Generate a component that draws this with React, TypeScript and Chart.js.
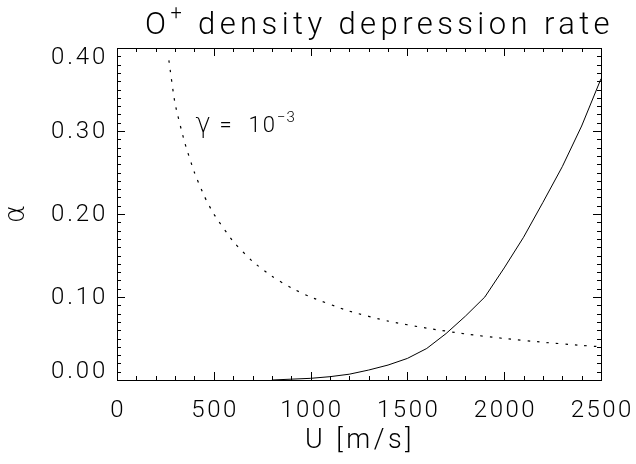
import { useEffect, useRef } from 'react';
import { Chart, registerables } from 'chart.js';

Chart.register(...registerables);

// Solid curve (alpha vs U)
const solidU = [800, 900, 1000, 1100, 1200, 1300, 1400, 1500, 1600, 1700, 1800, 1900, 2000, 2100, 2200, 2300, 2400, 2500];
const solidAlpha = [0.0, 0.001, 0.002, 0.004, 0.007, 0.012, 0.018, 0.026, 0.038, 0.056, 0.077, 0.1, 0.135, 0.172, 0.214, 0.257, 0.306, 0.363];

// Dotted curve (gamma = 1e-3)
const dottedU = [268, 300, 350, 400, 450, 500, 600, 700, 800, 900, 1000, 1200, 1400, 1600, 1800, 2000, 2200, 2400, 2500];
const dottedAlpha = [0.385, 0.333, 0.286, 0.25, 0.222, 0.2, 0.167, 0.143, 0.125, 0.111, 0.1, 0.083, 0.071, 0.0625, 0.0555, 0.05, 0.0455, 0.0417, 0.04];

const xTickValues = [0, 500, 1000, 1500, 2000, 2500];
const yTickValues = [0, 0.1, 0.2, 0.3, 0.4];

const titleMain = 'O';
const titleSup = '+';
const titleRest = ' density depression rate';
const xAxisTitle = 'U [m/s]';
const yAxisTitle = 'α';
const annotationGreek = 'γ';
const annotationEq = '=';
const annotationBase = '10';
const annotationSup = '−3';
const annotationAt = { u: 395, alpha: 0.299 };

const FONT = 'Roboto';
const GREEK = '"DejaVu Sans"';
const INK = '#000';

const decorPlugin = {
  id: 'idlDecor',
  beforeUpdate(chart: any) {
    chart.ctx.letterSpacing = '2.5px';
  },
  beforeDraw(chart: any) {
    const ctx = chart.ctx;
    ctx.save();
    ctx.fillStyle = '#fff';
    ctx.fillRect(0, 0, chart.width, chart.height);
    ctx.restore();
    ctx.letterSpacing = '2.5px';
  },
  afterDraw(chart: any) {
    const ctx = chart.ctx as CanvasRenderingContext2D;
    const { left, right, top, bottom } = chart.chartArea;
    const xs = chart.scales.x;
    const ys = chart.scales.y;
    ctx.save();
    ctx.strokeStyle = INK;
    ctx.fillStyle = INK;
    ctx.lineWidth = 1;

    // frame
    ctx.strokeRect(Math.round(left) + 0.5, Math.round(top) + 0.5, Math.round(right - left), Math.round(bottom - top));

    // x ticks (inward, bottom and top)
    ctx.beginPath();
    for (let i = 0; i <= 25; i++) {
      const px = Math.round(xs.getPixelForValue(i * 100)) + 0.5;
      const len = i % 5 === 0 ? 8 : 4;
      ctx.moveTo(px, bottom);
      ctx.lineTo(px, bottom - len);
      ctx.moveTo(px, top);
      ctx.lineTo(px, top + len);
    }
    // y ticks (inward, left and right)
    for (let i = 0; i <= 40; i++) {
      const py = Math.round(ys.getPixelForValue(i / 100)) + 0.5;
      const len = i % 10 === 0 ? 8 : 4;
      ctx.moveTo(left, py);
      ctx.lineTo(left + len, py);
      ctx.moveTo(right, py);
      ctx.lineTo(right - len, py);
    }
    ctx.stroke();

    // y tick labels (kept inside the frame at the ends)
    ctx.font = `300 24px ${FONT}`;
    ctx.letterSpacing = '2.8px';
    ctx.textAlign = 'right';
    ctx.textBaseline = 'middle';
    const half = 9;
    yTickValues.forEach((v) => {
      let py = ys.getPixelForValue(v);
      py = Math.min(Math.max(py, top + half), bottom - half);
      ctx.fillText(v.toFixed(2), left - 9, py + 1);
    });

    // x tick labels
    ctx.letterSpacing = '2.5px';
    ctx.textAlign = 'center';
    ctx.textBaseline = 'alphabetic';
    xTickValues.forEach((v) => {
      const px = xs.getPixelForValue(v);
      ctx.fillText(String(v), px + 1.25, bottom + 37);
    });

    // x axis title
    ctx.font = `300 27px ${FONT}`;
    ctx.letterSpacing = '3.5px';
    ctx.fillText(xAxisTitle, (left + right) / 2 + 1, bottom + 68);

    // y axis title (rotated)
    ctx.save();
    ctx.translate(17, (top + bottom) / 2);
    ctx.rotate(-Math.PI / 2);
    ctx.font = `200 28px ${GREEK}`;
    ctx.letterSpacing = '0px';
    ctx.textAlign = 'center';
    ctx.textBaseline = 'middle';
    ctx.fillText(yAxisTitle, 0, 0);
    ctx.restore();

    // title with superscript
    ctx.textAlign = 'left';
    ctx.textBaseline = 'alphabetic';
    ctx.font = `300 31px ${FONT}`;
    ctx.letterSpacing = '4.4px';
    let tx = 145;
    const tb = 34;
    ctx.fillText(titleMain, tx, tb);
    tx += ctx.measureText(titleMain).width;
    ctx.font = `300 20px ${FONT}`;
    ctx.fillText(titleSup, tx, tb - 15);
    tx += ctx.measureText(titleSup).width;
    ctx.font = `300 31px ${FONT}`;
    ctx.fillText(titleRest, tx, tb);

    // annotation
    const ax = xs.getPixelForValue(annotationAt.u);
    const ay = ys.getPixelForValue(annotationAt.alpha);
    ctx.font = `200 26px ${GREEK}`;
    ctx.letterSpacing = '0px';
    ctx.fillText(annotationGreek, ax + 2, ay);
    ctx.font = `300 22px ${FONT}`;
    ctx.letterSpacing = '2px';
    ctx.fillText(annotationEq, ax + 26, ay);
    ctx.fillText(annotationBase, ax + 55, ay);
    const bw = ctx.measureText(annotationBase).width;
    ctx.font = `300 15px ${FONT}`;
    ctx.letterSpacing = '1px';
    ctx.fillText(annotationSup, ax + 55 + bw, ay - 10);

    ctx.restore();
  },
};

export default function App() {
  const ref = useRef<HTMLCanvasElement | null>(null);
  useEffect(() => {
    if (!ref.current) return;
    const chart = new Chart(ref.current, {
      type: 'scatter',
      data: {
        datasets: [
          {
            label: 'solid',
            data: solidU.map((u, i) => ({ x: u, y: solidAlpha[i] })),
            showLine: true,
            borderColor: INK,
            borderWidth: 1,
            pointRadius: 0,
            tension: 0,
          },
          {
            label: 'gamma',
            data: dottedU.map((u, i) => ({ x: u, y: dottedAlpha[i] })),
            showLine: true,
            borderColor: INK,
            borderWidth: 1.2,
            borderDash: [2.5, 7],
            pointRadius: 0,
            tension: 0.2,
          },
        ],
      },
      options: {
        animation: false,
        responsive: false,
        devicePixelRatio: 1,
        layout: { padding: { top: 48, right: 35, left: 0, bottom: 0 } },
        plugins: { legend: { display: false }, tooltip: { enabled: false }, title: { display: false } },
        scales: {
          x: {
            type: 'linear',
            min: 0,
            max: 2500,
            grid: { display: false, drawTicks: false },
            border: { display: false },
            ticks: { display: false, stepSize: 500 },
            afterFit: (s: any) => {
              s.height = 84;
            },
          },
          y: {
            type: 'linear',
            min: 0,
            max: 0.4,
            grid: { display: false, drawTicks: false },
            border: { display: false },
            ticks: { display: false, stepSize: 0.1 },
            afterFit: (s: any) => {
              s.width = 117;
            },
          },
        },
      },
      plugins: [decorPlugin],
    });
    return () => chart.destroy();
  }, []);
  return (
    <canvas
      ref={ref}
      width={636}
      height={464}
      style={{ position: 'fixed', left: 0, top: 0, width: 636, height: 464, background: '#fff' }}
    />
  );
}
